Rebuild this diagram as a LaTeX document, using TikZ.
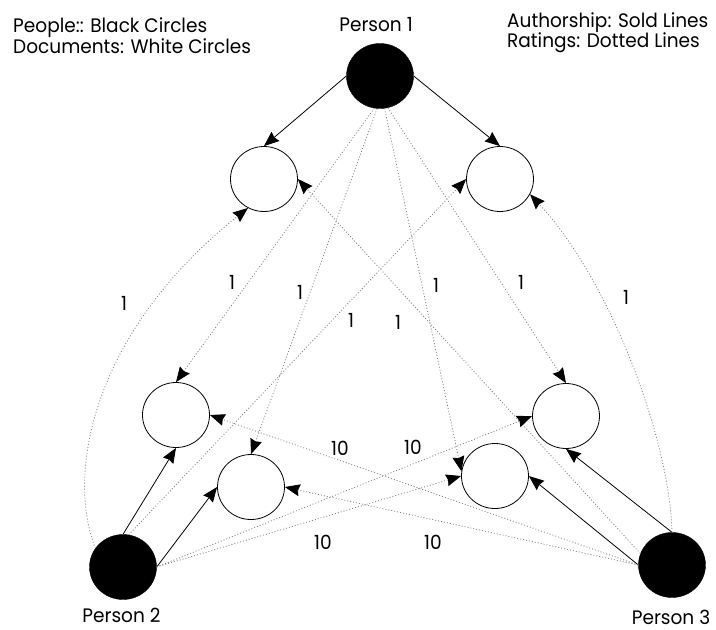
\documentclass[tikz,border=0pt]{standalone}
\usepackage{fontspec}
\setmainfont{Poppins}[FakeStretch=0.95]
\usetikzlibrary{arrows.meta,shapes.geometric}
\begin{document}
\begin{tikzpicture}[x=1pt,y=-1pt,
  every node/.style={font=\fontsize{19.5}{20}\selectfont},
  person/.style={ellipse, fill=black, draw=black, minimum width=67pt, minimum height=65pt, inner sep=0pt},
  doc/.style={ellipse, draw=black, line width=0.8pt, minimum width=67pt, minimum height=65pt, inner sep=0pt},
  txt/.style={inner sep=0pt},
  lbl/.style={inner sep=0pt},
  author/.style={draw=black, line width=0.8pt, -{Stealth[length=15pt,width=12pt,inset=1.5pt]}},
  rating/.style={draw=gray, line width=0.8pt, dash pattern=on 1pt off 2pt, -{Stealth[length=15pt,width=12pt,inset=1.5pt,color=black]}}]
\useasboundingbox (0,0) rectangle (716,630);

% legend and names
\node[txt, anchor=base west] (leg1) at (13,32) {People:: Black Circles};
\node[txt, anchor=base west] (leg2) at (13,53) {Documents: White Circles};
\node[txt, anchor=base west] (leg3) at (507,27) {Authorship: Sold Lines};
\node[txt, anchor=base west] (leg4) at (507,47) {Ratings: Dotted Lines};
\node[txt, anchor=base] (n1) at (376,31) {Person 1};
\node[txt, anchor=base] (n2) at (121.5,622) {Person 2};
\node[txt, anchor=base] (n3) at (671,624) {Person 3};

% people
\node[person] (P1) at (380,76) {};
\node[person] (P2) at (123,567) {};
\node[person] (P3) at (672,565) {};

% documents
\node[doc] (TL) at (264,179) {};
\node[doc] (TR) at (500,179) {};
\node[doc] (ML) at (176,415) {};
\node[doc] (MLL) at (251,487) {};
\node[doc] (MR) at (566,416) {};
\node[doc] (LR) at (495,476) {};

% authorship
\draw[author] (P1.west) -- (TL.north);
\draw[author] (P1.east) -- (TR.north);
\draw[author] (P2.north) -- (ML.south);
\draw[author] (P2.east) -- (MLL.west);
\draw[author] (P3.north) -- (MR.south);
\draw[author] (P3.west) -- (LR.east);

% ratings
\draw[rating] (P1.-100) -- (ML.north);
\draw[rating] (P1.-95) -- (MLL.north);
\draw[rating] (P1.-82) -- (LR.172);
\draw[rating] (P1.-76) -- (MR.north);
\draw[rating] (P2.146) .. controls (65,470) and (95,330) .. (TL.-119);
\draw[rating] (P2.80) -- (TR.west);
\draw[rating] (P3.160) -- (TL.east);
\draw[rating] (P3.north) .. controls (670,440) and (610,280) .. (TR.-27);
\draw[rating] (P3.west) -- (ML.east);
\draw[rating] (P2.east) -- (MR.west);
\draw[rating] (P3.west) -- (MLL.east);
\draw[rating] (P2.east) -- (LR.west);

% rating values
\node[lbl] (r1) at (124,303) {1};
\node[lbl] (r2) at (232,282) {1};
\node[lbl] (r3) at (300,292) {1};
\node[lbl] (r4) at (351,320) {1};
\node[lbl] (r5) at (398,322) {1};
\node[lbl] (r6) at (436,285) {1};
\node[lbl] (r7) at (521,282) {1};
\node[lbl] (r8) at (626,297) {1};
\node[lbl] (r9) at (340,448) {10};
\node[lbl] (r10) at (413,447) {10};
\node[lbl] (r11) at (323,542) {10};
\node[lbl] (r12) at (433,542) {10};
\end{tikzpicture}
\end{document}
